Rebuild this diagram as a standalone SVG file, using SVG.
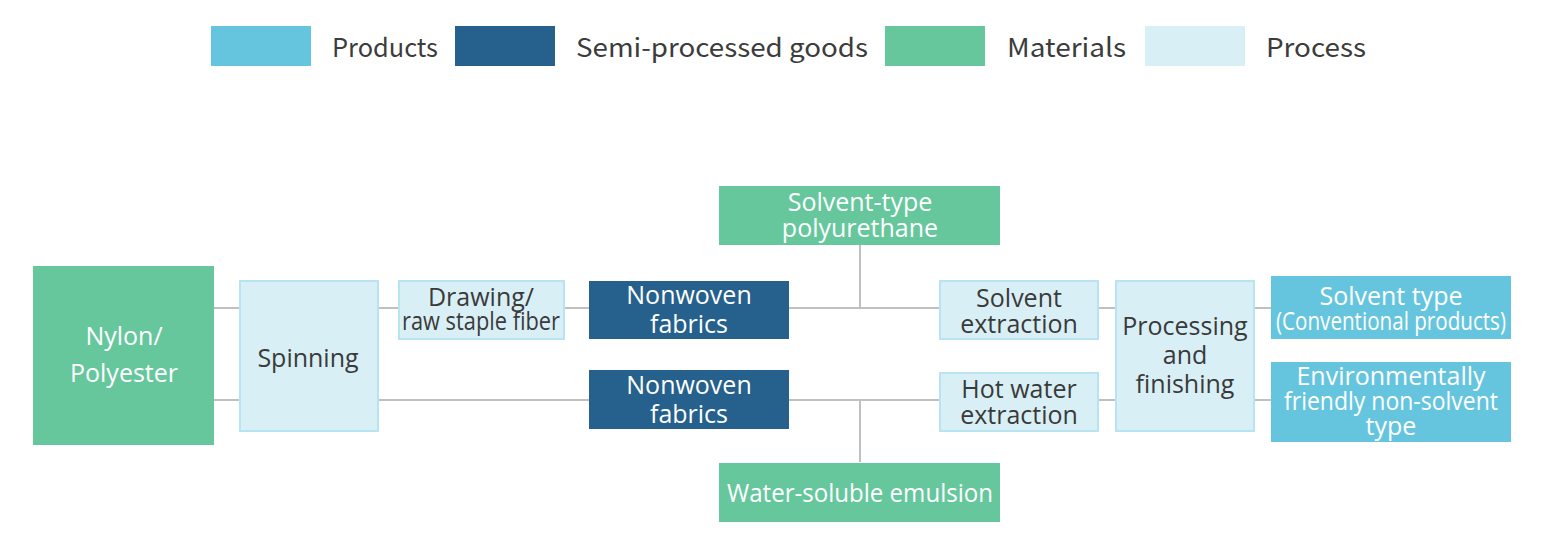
<svg xmlns="http://www.w3.org/2000/svg" width="1544" height="554" viewBox="0 0 1544 554">
<style>
.leg{font-family:"Noto Sans CJK JP","Noto Sans",sans-serif;font-size:26px;fill:#3c3c3c}
.t{font-family:"Open Sans","Noto Sans",sans-serif;font-size:25px;text-anchor:middle}
.w{fill:#fff}
.d{fill:#3a3a3a}
.prod{fill:#66c5de}
.semi{fill:#25618c}
.mat{fill:#66c79d}
.proc{fill:#d9eff6;stroke:#b8e3f0;stroke-width:2}
.c{stroke:#c0c0c0;stroke-width:2;fill:none}
</style>
<rect width="1544" height="554" fill="#fff"/>
<g id="legend">
<rect x="211" y="26" width="100" height="40" class="prod"/>
<text x="332" y="57" class="leg" textLength="106" lengthAdjust="spacingAndGlyphs">Products</text>
<rect x="455" y="26" width="100" height="40" class="semi"/>
<text x="576" y="57" class="leg" textLength="292" lengthAdjust="spacingAndGlyphs">Semi-processed goods</text>
<rect x="885" y="26" width="100" height="40" class="mat"/>
<text x="1007" y="57" class="leg" textLength="119" lengthAdjust="spacingAndGlyphs">Materials</text>
<rect x="1145" y="26" width="100" height="40" fill="#d9eff6"/>
<text x="1266" y="57" class="leg" textLength="100" lengthAdjust="spacingAndGlyphs">Process</text>
</g>
<g id="connectors">
<path class="c" d="M214 308H239M378 308H398M564 308H589M788 308H939M1098 308H1115M1254 308H1271"/>
<path class="c" d="M214 400H239M378 400H589M788 400H939M1098 400H1115M1254 400H1271"/>
<path class="c" d="M860 245V308M860 400V462"/>
</g>
<g id="nylon">
<rect x="33" y="266" width="181" height="179" class="mat"/>
<text x="124" y="345" class="t w" font-size="26">Nylon/</text>
<text x="124" y="382" class="t w" font-size="26">Polyester</text>
</g>
<g id="spinning">
<rect x="240" y="281" width="138" height="150" class="proc"/>
<text x="308" y="367" class="t d">Spinning</text>
</g>
<g id="drawing">
<rect x="399" y="281" width="165" height="58" class="proc"/>
<text x="481" y="306" class="t d" font-size="22">Drawing/</text>
<text x="481" y="330" class="t d" font-size="22" textLength="158" lengthAdjust="spacingAndGlyphs">raw staple fiber</text>
</g>
<g id="nonwoven1">
<rect x="589" y="281" width="200" height="58" class="semi"/>
<text x="689" y="304" class="t w">Nonwoven</text>
<text x="689" y="333" class="t w">fabrics</text>
</g>
<g id="nonwoven2">
<rect x="589" y="370" width="200" height="59" class="semi"/>
<text x="689" y="394" class="t w">Nonwoven</text>
<text x="689" y="423" class="t w">fabrics</text>
</g>
<g id="solvent-pu">
<rect x="719" y="186" width="281" height="59" class="mat"/>
<text x="860" y="211" class="t w">Solvent-type</text>
<text x="860" y="237" class="t w">polyurethane</text>
</g>
<g id="water-emulsion">
<rect x="719" y="463" width="281" height="59" class="mat"/>
<text x="860" y="502" class="t w" textLength="266" lengthAdjust="spacingAndGlyphs">Water-soluble emulsion</text>
</g>
<g id="solvent-extraction">
<rect x="940" y="281" width="158" height="58" class="proc"/>
<text x="1019" y="307" class="t d" font-size="23">Solvent</text>
<text x="1019" y="333" class="t d" font-size="23">extraction</text>
</g>
<g id="hot-water-extraction">
<rect x="940" y="373" width="158" height="58" class="proc"/>
<text x="1019" y="398" class="t d" font-size="23">Hot water</text>
<text x="1019" y="424" class="t d" font-size="23">extraction</text>
</g>
<g id="processing">
<rect x="1116" y="281" width="138" height="150" class="proc"/>
<text x="1185" y="335" class="t d" font-size="26">Processing</text>
<text x="1185" y="364" class="t d" font-size="26">and</text>
<text x="1185" y="393" class="t d" font-size="26">finishing</text>
</g>
<g id="solvent-type">
<rect x="1271" y="276" width="240" height="63" class="prod"/>
<text x="1391" y="305" class="t w" font-size="24">Solvent type</text>
<text x="1391" y="330" class="t w" font-size="20" textLength="230" lengthAdjust="spacingAndGlyphs">(Conventional products)</text>
</g>
<g id="eco-type">
<rect x="1271" y="362" width="240" height="80" class="prod"/>
<text x="1391" y="385" class="t w" font-size="22">Environmentally</text>
<text x="1391" y="410" class="t w" font-size="22" textLength="214" lengthAdjust="spacingAndGlyphs">friendly non-solvent</text>
<text x="1391" y="435" class="t w" font-size="22">type</text>
</g>
</svg>
